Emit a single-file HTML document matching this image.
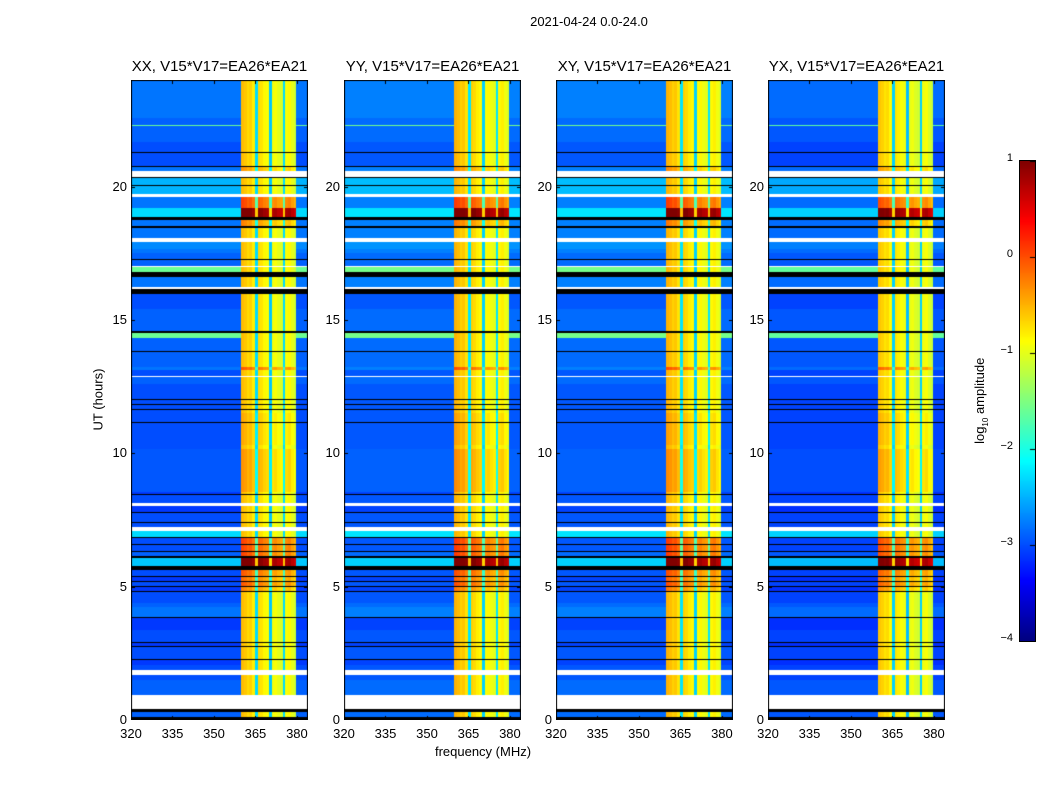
<!DOCTYPE html>
<html><head><meta charset="utf-8">
<style>
body{margin:0;background:#fff;}
#fig{position:relative;width:1050px;height:800px;background:#fff;font-family:"Liberation Sans",sans-serif;color:#000;overflow:hidden;}
.t{position:absolute;white-space:nowrap;font-size:13px;}
canvas{position:absolute;}
</style></head><body>
<div id="fig">
<div class="t" style="left:489px;top:14px;width:200px;text-align:center;">2021-04-24 0.0-24.0</div>
<div class="t" style="left:48px;top:392px;width:100px;text-align:center;transform:rotate(-90deg);">UT (hours)</div>
<div class="t" style="left:383px;top:744px;width:200px;text-align:center;">frequency (MHz)</div>
<canvas id="cb" width="15" height="480" style="left:1019px;top:160px;border:1px solid #000;box-sizing:border-box;"></canvas>
<div class="t" style="left:921px;top:392px;width:120px;text-align:center;transform:rotate(-90deg);">log<sub style="font-size:8px">10</sub> amplitude</div>
</div>
<script>
// ---- data ----
const panelTitles = ["XX, V15*V17=EA26*EA21","YY, V15*V17=EA26*EA21","XY, V15*V17=EA26*EA21","YX, V15*V17=EA26*EA21"];
const panelOffsets = [0, 0.05, 0.05, -0.05];
const freqEdges = [320,384];
const channelFreqs = [];
for (let f=320; f<384; f++) channelFreqs.push(f);
// band profile: null => background, else log10 amplitude of band channel
const bandProfile = [
 null,null,null,null,null,null,null,null,null,null,
 null,null,null,null,null,null,null,null,null,null,
 null,null,null,null,null,null,null,null,null,null,
 null,null,null,null,null,null,null,null,null,null,
 -0.55,-0.6,-0.7,-0.65,-0.8,-2.3,-0.7,-0.75,-0.85,-0.9,
 -2.4,-0.95,-0.9,-1.0,-1.05,-2.3,-0.9,-0.85,-1.0,-1.1,
 null,null,null,null];
// time rows: [t0, t1, background level (null=flagged, -5=black), band boost]
const timeRows = [
[22.61,24,-2.8,0],[22.55,22.61,null,0],[22.45,22.55,-2.9,0],[22.4,22.45,null,0],[22.3,22.4,-2.9,0],
[22.25,22.3,-1.6,0],[22.03,22.25,-2.9,0],[21.98,22.03,null,0],[21.7,21.98,-2.9,0],[21.65,21.7,null,0],
[21.28,21.65,-3.0,0],[21.24,21.28,-5,0],[20.76,21.24,-3.0,0],[20.72,20.76,-5,0],[20.6,20.72,-2.8,0.2],
[20.33,20.6,null,0],[20.3,20.33,-5,0],[20.05,20.3,-2.5,0],[20.0,20.05,-5,0],[19.75,20.0,-2.5,0],
[19.6,19.75,null,0],[19.2,19.6,-2.8,0.6],[18.85,19.2,-2.3,1.7],[18.75,18.85,-5,0],[18.5,18.75,-2.8,0.3],
[18.45,18.5,-5,0],[18.1,18.45,-2.8,0],[17.9,18.1,null,0],[17.7,17.9,-2.7,0],[17.65,17.7,null,0],
[17.53,17.65,-2.8,0],[17.48,17.53,null,0],[17.27,17.48,-2.9,0],[17.22,17.27,-5,0],[17.05,17.22,-2.9,0],
[16.98,17.05,null,0],[16.78,16.98,-1.6,0],[16.6,16.78,-5,0],[16.26,16.6,-2.8,0],[16.14,16.26,null,0],
[15.94,16.14,-5,0],[15.7,15.94,-3.0,0],[15.64,15.7,null,0],[15.43,15.64,-3.0,0],[15.38,15.43,null,0],
[15.25,15.38,-2.9,0],[15.2,15.25,null,0],[14.55,15.2,-2.9,0],[14.5,14.55,-5,0],[14.3,14.5,-1.6,0],
[13.82,14.3,-2.9,0],[13.78,13.82,-5,0],[13.26,13.78,-2.9,0],[13.22,13.26,null,0],[13.1,13.22,-2.8,0.5],
[12.92,13.1,-3.0,0],[12.86,12.92,null,0],[12.62,12.86,-2.9,0],[12.57,12.62,null,0],[12.02,12.57,-3.0,0],
[11.97,12.02,-5,0],[11.82,11.97,-3.0,0],[11.78,11.82,-5,0],[11.65,11.78,-3.0,0],[11.6,11.65,-5,0],
[11.53,11.6,-3.0,0],[11.48,11.53,null,0],[11.16,11.48,-3.0,0.1],[11.12,11.16,-5,0],[10.33,11.12,-3.0,0.1],
[10.28,10.33,null,0],[10.18,10.28,-3.0,0],[10.13,10.18,null,0],[8.57,10.13,-2.95,0.2],[8.52,8.57,null,0],
[8.46,8.52,-3.1,0],[8.42,8.46,-5,0],[8.16,8.42,-3.0,0],[8.0,8.16,null,0],[7.78,8.0,-3.1,0],
[7.74,7.78,-5,0],[7.6,7.74,-3.0,0],[7.56,7.6,null,0],[7.41,7.56,-3.0,0],[7.37,7.41,-5,0],
[7.25,7.37,-3.0,0],[7.08,7.25,null,0],[6.85,7.08,-2.3,0],[6.8,6.85,-5,0],[6.58,6.8,-3.0,0.6],
[6.54,6.58,-5,0],[6.32,6.54,-3.0,0.6],[6.28,6.32,-5,0],[6.12,6.28,-2.9,0.6],[6.07,6.12,-5,0],
[5.76,6.07,-2.4,1.7],[5.62,5.76,-5,0],[5.38,5.62,-3.0,0.5],[5.34,5.38,-5,0],[5.2,5.34,-3.1,0.4],
[5.16,5.2,-5,0],[5.0,5.16,-3.0,0.5],[4.96,5.0,-5,0],[4.82,4.96,-3.1,0.3],[4.78,4.82,-5,0],
[4.6,4.78,-3.0,0],[4.55,4.6,null,0],[4.41,4.55,-3.0,0],[4.36,4.41,null,0],[4.26,4.36,-2.9,0],
[4.21,4.26,null,0],[3.85,4.21,-2.8,0],[3.81,3.85,-5,0],[3.47,3.81,-3.1,0],[3.43,3.47,null,0],
[3.4,3.43,-3.1,0],[3.36,3.4,null,0],[2.91,3.36,-3.0,0],[2.87,2.91,-5,0],[2.76,2.87,-3.1,0],
[2.72,2.76,-5,0],[2.27,2.72,-3.0,0],[2.23,2.27,-5,0],[2.08,2.23,-3.1,0],[2.04,2.08,null,0],
[1.9,2.04,-3.0,0],[1.68,1.9,null,0],[1.52,1.68,-3.0,0],[1.48,1.52,null,0],[0.94,1.48,-2.9,0],
[0.38,0.94,null,0],[0.3,0.38,-5,0],[0.08,0.3,-2.9,0],[0,0.08,-5,0]];
const xTicks = [320,335,350,365,380];
const xTickLabels = ["320","335","350","365","380"];
const yTicks = [0,5,10,15,20];
const yTickLabels = ["0","5","10","15","20"];
const cbTicks = [1,0,-1,-2,-3,-4];
const cbTickLabels = ["1","0","\u22121","\u22122","\u22123","\u22124"];
const vmin=-4, vmax=1;

// ---- rendering ----
const panelLefts=[131,344,556,768], panelW=177, panelTop=80, panelH=640;
function jet(v){
  let x=(v-vmin)/(vmax-vmin); x=Math.max(0,Math.min(1,x));
  const r=Math.max(0,Math.min(1,Math.min(4*x-1.5,-4*x+4.5)));
  const g=Math.max(0,Math.min(1,Math.min(4*x-0.5,-4*x+3.5)));
  const b=Math.max(0,Math.min(1,Math.min(4*x+0.5,-4*x+2.5)));
  return `rgb(${Math.round(r*255)},${Math.round(g*255)},${Math.round(b*255)})`;
}
const fig=document.getElementById('fig');
function xScale(f){return (f-freqEdges[0])/(freqEdges[1]-freqEdges[0])*panelW;}
function yScale(t){return panelH - t/24*panelH;}
function addText(txt,left,top,w,align,name,size){
  const d=document.createElement('div');d.className='t';d.textContent=txt;
  d.style.left=left+'px';d.style.top=top+'px';d.style.width=w+'px';d.style.textAlign=align;
  if(size)d.style.fontSize=size+'px';
  
  
  fig.appendChild(d);
}
panelTitles.forEach((title,p)=>{
  const L=panelLefts[p];
  const c=document.createElement('canvas');
  c.width=panelW;c.height=panelH;
  c.style.left=L+'px';c.style.top=panelTop+'px';
  
  
  fig.appendChild(c);
  const ctx=c.getContext('2d');
  ctx.fillStyle='#fff';ctx.fillRect(0,0,panelW,panelH);
  timeRows.forEach(row=>{
    const [t0,t1,bg,boost]=row;
    if(bg===null) return;
    const y0=yScale(t1), y1=yScale(t0);
    channelFreqs.forEach((f,i)=>{
      let v;
      if(bg===-5){ctx.fillStyle='#000';}
      else{
        v = bandProfile[i]===null ? bg+panelOffsets[p] : bandProfile[i]+boost+panelOffsets[p];
        ctx.fillStyle=jet(v);
      }
      const x0=xScale(f), x1=xScale(f+1);
      ctx.fillRect(Math.floor(x0),Math.floor(y0),Math.ceil(x1)-Math.floor(x0),Math.max(1,Math.ceil(y1)-Math.floor(y0)));
    });
  });
  ctx.strokeStyle='#000';ctx.lineWidth=1;
  xTicks.forEach(f=>{const x=Math.round(xScale(f))+0.5;ctx.beginPath();ctx.moveTo(x,panelH);ctx.lineTo(x,panelH-4);ctx.moveTo(x,0);ctx.lineTo(x,4);ctx.stroke();});
  yTicks.forEach(t=>{const y=Math.round(yScale(t))+0.5;ctx.beginPath();ctx.moveTo(0,y);ctx.lineTo(4,y);ctx.moveTo(panelW,y);ctx.lineTo(panelW-4,y);ctx.stroke();});
  ctx.strokeRect(0.5,0.5,panelW-1,panelH-1);
  addText(title,L-30,58,panelW+60,'center','panel-title-'+(p+1),15);
  xTicks.forEach((f,i)=>addText(xTickLabels[i],L+xScale(f)-20,726,40,'center','x-tick-label',13));
  yTicks.forEach((t,i)=>addText(yTickLabels[i],L-44,panelTop+yScale(t)-8,40,'right','y-tick-label',13));
});
const cb=document.getElementById('cb');const cctx=cb.getContext('2d');
for(let y=0;y<480;y++){cctx.fillStyle=jet(vmax-(y+0.5)/480*(vmax-vmin));cctx.fillRect(0,y,15,1);}
cctx.strokeStyle='#000';
cbTicks.forEach((v,i)=>{
  const y=160+(vmax-v)/(vmax-vmin)*480;
  cctx.beginPath();cctx.moveTo(10,y-160+0.5);cctx.lineTo(15,y-160+0.5);cctx.stroke();
  addText(cbTickLabels[i],973,y-8,40,'right','colorbar-tick-label',11);
});
</script>
</body></html>
